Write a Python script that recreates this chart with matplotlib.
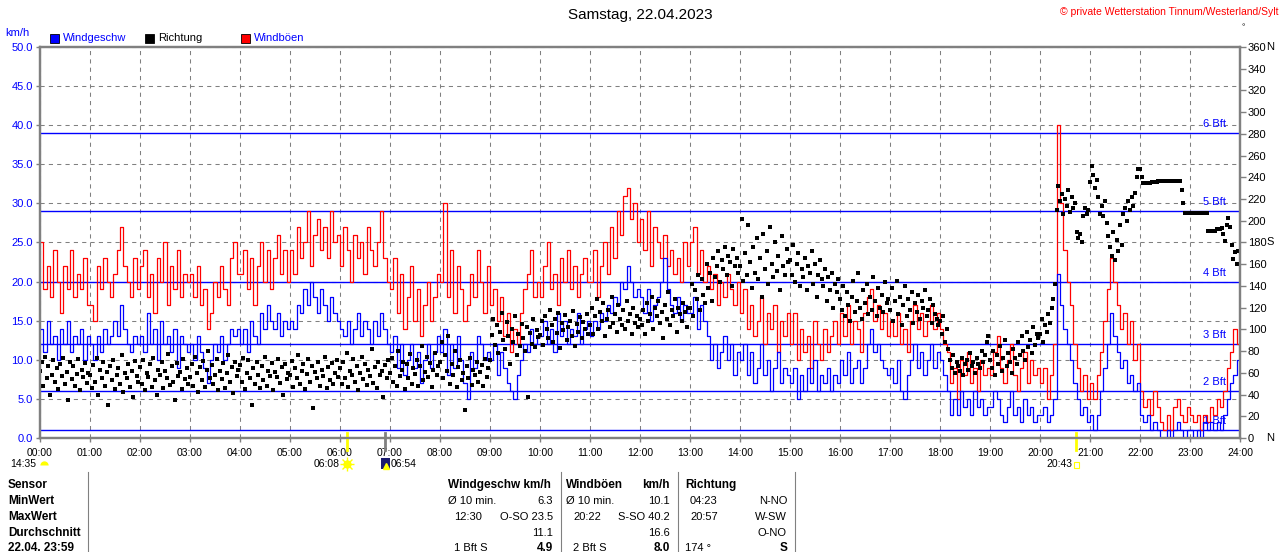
import numpy as np
import matplotlib
matplotlib.use("Agg")
import matplotlib.pyplot as plt
from matplotlib.patches import Rectangle
from matplotlib.transforms import blended_transform_factory

plt.rcParams['font.family'] = ['Liberation Sans', 'DejaVu Sans']

W, H = 1280, 552

# wind speed, km/h, 4-minute values, one row per hour
SPEED = [
    [14, 11, 15, 12, 13, 10, 14, 12, 15, 11, 13, 12, 14, 10, 13],
    [12, 10, 13, 11, 14, 12, 13, 15, 13, 17, 14, 12, 11, 13, 12],
    [13, 11, 16, 12, 14, 10, 15, 12, 13, 11, 14, 9, 13, 12, 11],
    [12, 10, 13, 11, 9, 7, 10, 12, 11, 13, 10, 12, 14, 13, 14],
    [12, 14, 11, 15, 13, 12, 16, 14, 17, 15, 14, 16, 13, 15, 14],
    [15, 14, 17, 16, 19, 17, 20, 18, 16, 19, 17, 15, 18, 16, 15],
    [14, 13, 15, 12, 14, 16, 13, 15, 14, 12, 15, 13, 16, 14, 12],
    [11, 13, 9, 12, 8, 10, 12, 9, 11, 7, 10, 12, 9, 11, 13],
    [11, 14, 8, 12, 9, 13, 10, 7, 5, 11, 9, 13, 12, 10, 11],
    [10, 12, 8, 11, 9, 7, 6, 5, 8, 10, 12, 11, 14, 12, 13],
    [13, 15, 12, 14, 11, 16, 13, 15, 12, 14, 13, 16, 12, 14, 15],
    [13, 15, 14, 16, 15, 17, 16, 18, 17, 20, 19, 22, 20, 18, 19],
    [18, 16, 19, 15, 17, 18, 20, 23, 19, 17, 16, 18, 15, 17, 16],
    [16, 18, 14, 17, 15, 13, 10, 12, 9, 11, 13, 10, 12, 8, 11],
    [10, 12, 8, 11, 7, 9, 12, 8, 10, 6, 9, 11, 7, 9, 8],
    [7, 9, 5, 8, 6, 9, 7, 10, 6, 8, 7, 9, 6, 8, 7],
    [10, 8, 11, 7, 9, 10, 7, 9, 12, 14, 11, 12, 10, 9, 8],
    [9, 7, 10, 6, 5, 8, 10, 12, 9, 11, 8, 10, 12, 9, 11],
    [10, 8, 6, 3, 5, 3, 6, 4, 5, 3, 6, 4, 5, 3, 4],
    [4, 6, 5, 3, 2, 4, 6, 3, 4, 2, 5, 3, 4, 2, 3],
    [3, 4, 2, 3, 5, 21, 17, 14, 12, 10, 7, 5, 3, 4, 2],
    [3, 1, 3, 6, 9, 12, 16, 13, 11, 9, 10, 7, 8, 6, 7],
    [3, 2, 3, 1, 2, 1, 0, 0, 1, 0, 1, 2, 1, 0, 1],
    [1, 0, 1, 0, 2, 1, 2, 1, 2, 1, 3, 5, 7, 8, 10],
]

# gusts, km/h, 4-minute values, one row per hour
GUST = [
    [25, 19, 22, 18, 24, 20, 16, 22, 19, 24, 18, 21, 19, 23, 17],
    [17, 15, 22, 19, 23, 20, 18, 21, 24, 27, 22, 20, 18, 23, 19],
    [22, 24, 18, 21, 16, 23, 20, 25, 17, 22, 19, 24, 18, 21, 20],
    [21, 18, 22, 17, 19, 14, 16, 20, 18, 22, 19, 17, 23, 25, 21],
    [21, 24, 19, 23, 17, 22, 25, 20, 24, 19, 23, 26, 21, 24, 20],
    [24, 21, 27, 23, 25, 29, 22, 26, 28, 24, 27, 23, 29, 25, 26],
    [22, 27, 24, 20, 26, 23, 25, 21, 27, 24, 22, 25, 29, 23, 20],
    [19, 23, 16, 21, 14, 18, 22, 15, 19, 13, 17, 20, 15, 18, 21],
    [20, 30, 18, 24, 16, 22, 19, 15, 17, 21, 18, 24, 20, 16, 22],
    [17, 19, 15, 18, 13, 16, 11, 14, 12, 16, 19, 21, 24, 18, 20],
    [18, 22, 25, 19, 21, 17, 23, 20, 24, 19, 22, 18, 21, 23, 20],
    [20, 24, 18, 22, 25, 21, 27, 23, 29, 26, 31, 32, 28, 30, 25],
    [28, 24, 29, 22, 27, 25, 23, 26, 22, 24, 21, 23, 20, 25, 22],
    [25, 27, 21, 24, 20, 22, 19, 21, 17, 20, 18, 21, 19, 17, 20],
    [16, 19, 14, 17, 13, 15, 18, 12, 16, 14, 17, 11, 15, 13, 16],
    [12, 16, 10, 14, 11, 13, 9, 15, 12, 10, 14, 11, 13, 15, 12],
    [16, 13, 17, 12, 15, 14, 11, 16, 18, 19, 15, 17, 14, 16, 13],
    [15, 13, 16, 12, 14, 11, 15, 17, 14, 16, 13, 15, 17, 14, 16],
    [14, 12, 11, 7, 9, 5, 10, 8, 11, 7, 9, 6, 10, 8, 9],
    [8, 11, 13, 9, 7, 10, 12, 8, 6, 9, 11, 7, 10, 8, 9],
    [7, 9, 5, 8, 12, 40, 30, 24, 20, 17, 12, 9, 6, 8, 5],
    [7, 5, 8, 11, 15, 19, 23, 20, 17, 14, 16, 12, 15, 10, 12],
    [6, 4, 5, 3, 6, 4, 2, 1, 3, 1, 4, 5, 3, 2, 4],
    [3, 2, 3, 1, 3, 2, 4, 3, 5, 4, 6, 9, 11, 14, 12],
]

# wind direction, degrees, 2-minute values, one row per hour
DIRECTION = [
    [62, 70, 48, 75, 55, 66, 40, 58, 72, 52, 64, 45, 68, 57, 74, 50, 61, 35, 70, 54, 66, 48, 59, 73, 44, 63, 56, 69, 51, 60],
    [58, 46, 67, 52, 74, 40, 63, 55, 70, 48, 61, 30, 66, 53, 72, 45, 58, 64, 50, 76, 42, 60, 55, 68, 47, 62, 38, 71, 57, 52],
    [65, 50, 72, 44, 60, 56, 68, 47, 74, 53, 40, 63, 58, 70, 46, 62, 55, 77, 49, 66, 52, 35, 69, 57, 61, 45, 73, 54, 64, 50],
    [56, 68, 48, 75, 60, 42, 65, 53, 71, 47, 63, 80, 55, 67, 50, 58, 73, 44, 62, 54, 69, 46, 60, 76, 52, 65, 41, 70, 57, 63],
    [67, 52, 74, 45, 60, 72, 55, 30, 64, 50, 70, 58, 46, 66, 53, 75, 48, 62, 57, 69, 44, 61, 56, 73, 51, 65, 40, 68, 54, 60],
    [58, 71, 47, 64, 55, 76, 50, 62, 68, 45, 59, 73, 52, 66, 28, 61, 55, 70, 48, 63, 57, 75, 46, 65, 53, 69, 50, 60, 72, 56],
    [64, 50, 70, 55, 78, 47, 62, 58, 73, 52, 66, 44, 60, 75, 54, 68, 49, 63, 57, 82, 51, 65, 46, 70, 58, 62, 38, 67, 55, 72],
    [60, 74, 52, 66, 48, 80, 57, 63, 70, 45, 68, 55, 77, 50, 64, 59, 72, 48, 66, 85, 53, 61, 75, 56, 69, 47, 63, 78, 58, 66],
    [70, 88, 55, 76, 62, 94, 50, 68, 58, 80, 47, 65, 72, 53, 60, 26, 66, 55, 74, 49, 63, 58, 70, 52, 61, 67, 48, 73, 56, 64],
    [72, 95, 110, 86, 104, 78, 98, 115, 90, 82, 107, 94, 68, 100, 88, 112, 76, 96, 85, 105, 92, 80, 102, 38, 97, 87, 110, 84, 99, 93],
    [95, 108, 86, 112, 100, 92, 118, 104, 88, 110, 97, 115, 83, 106, 99, 113, 90, 102, 108, 94, 117, 85, 105, 98, 111, 92, 107, 100, 114, 96],
    [104, 120, 96, 112, 128, 100, 116, 108, 124, 94, 110, 118, 102, 130, 106, 114, 98, 122, 110, 104, 118, 100, 126, 108, 114, 96, 120, 106, 112, 102],
    [110, 104, 118, 96, 124, 108, 114, 130, 100, 120, 112, 126, 106, 116, 92, 122, 110, 134, 104, 118, 112, 128, 98, 120, 114, 108, 124, 116, 102, 120],
    [120, 142, 112, 136, 128, 150, 118, 146, 132, 124, 160, 138, 152, 126, 166, 148, 158, 172, 144, 164, 156, 176, 150, 168, 162, 140, 174, 158, 166, 152],
    [158, 202, 145, 170, 150, 196, 162, 138, 176, 152, 184, 146, 166, 130, 188, 156, 172, 142, 194, 160, 148, 180, 154, 168, 136, 186, 158, 150, 174, 162],
    [164, 150, 178, 144, 160, 170, 140, 156, 148, 166, 136, 158, 152, 172, 142, 160, 130, 150, 164, 146, 140, 156, 126, 148, 136, 152, 120, 142, 134, 146],
    [128, 118, 140, 112, 134, 122, 108, 130, 145, 116, 126, 152, 120, 110, 136, 124, 142, 114, 130, 118, 148, 126, 112, 138, 120, 132, 116, 144, 124, 128],
    [118, 138, 108, 126, 145, 114, 130, 104, 122, 140, 112, 128, 118, 134, 106, 124, 116, 132, 110, 126, 120, 136, 112, 118, 128, 106, 122, 114, 110, 104],
    [108, 96, 112, 88, 100, 82, 72, 64, 76, 60, 70, 66, 62, 74, 58, 68, 72, 63, 78, 66, 70, 60, 74, 68, 64, 80, 70, 76, 88, 94],
    [72, 64, 80, 58, 76, 68, 85, 62, 74, 90, 66, 78, 70, 60, 82, 74, 68, 88, 76, 94, 80, 72, 98, 84, 90, 78, 102, 86, 96, 92],
    [96, 110, 88, 104, 98, 114, 106, 120, 128, 142, 210, 232, 218, 225, 206, 220, 214, 228, 208, 222, 212, 216, 190, 184, 188, 180, 204, 212, 206, 210],
    [236, 250, 242, 230, 238, 222, 206, 214, 204, 218, 198, 186, 176, 168, 190, 164, 182, 172, 196, 178, 206, 212, 200, 218, 210, 222, 214, 226, 240, 248],
    [248, 240, 235, 235, 235, 235, 235, 236, 236, 236, 236, 237, 237, 237, 237, 237, 237, 237, 237, 237, 237, 237, 237, 237, 237, 228, 216, 207, 207, 207],
    [207, 207, 207, 207, 207, 207, 207, 207, 207, 207, 207, 191, 191, 191, 191, 191, 192, 192, 192, 193, 188, 181, 196, 203, 194, 178, 165, 171, 160, 172],
]

HOUR_LABELS = [f"{h:02d}:00" for h in range(25)]
KMH_TICKS = [0, 5, 10, 15, 20, 25, 30, 35, 40, 45, 50]
DIR_TICKS = list(range(0, 361, 20))
DIR_LETTERS = [(360, "N"), (180, "S"), (0, "N")]
BFT_KMH = [1, 6, 12, 20, 29, 39]
BFT_NAMES = ["1 Bft", "2 Bft", "3 Bft", "4 Bft", "5 Bft", "6 Bft"]

TITLE = "Samstag, 22.04.2023"
COPYRIGHT = "© private Wetterstation Tinnum/Westerland/Sylt"

# sun / moon marks under the time axis
SUNRISE, SUNSET, MOONRISE, MOONSET = "06:08", "20:43", "06:54", "14:35"

ROW_LABELS = ["Sensor", "MinWert", "MaxWert", "Durchschnitt", "22.04. 23:59"]
SPEED_COL = [("", "Windgeschw km/h"), ("Ø 10 min.", "6.3"), ("12:30", "O-SO 23.5"),
             ("", "11.1"), ("1 Bft S", "4.9")]
GUST_COL = [("Windböen", "km/h"), ("Ø 10 min.", "10.1"), ("20:22", "S-SO 40.2"),
            ("", "16.6"), ("2 Bft S", "8.0")]
DIR_COL = [("Richtung", ""), ("04:23", "N-NO"), ("20:57", "W-SW"),
           ("", "O-NO"), ("174 °", "S")]

BLUE, RED, GRAY, YELLOW = "#0000ff", "#ff0000", "#808080", "#ffff00"


def hours_of(hhmm):
    h, m = hhmm.split(":")
    return int(h) + int(m) / 60


def px(x, y):
    return x / W, 1 - y / H


def fig_marker(x, y, **kw):
    fx, fy = px(x, y)
    fig.lines.append(plt.Line2D([fx], [fy], transform=fig.transFigure, **kw))


fig = plt.figure(figsize=(W / 100, H / 100), dpi=100)
ax = fig.add_axes([40 / W, (H - 438) / H, 1200 / W, 391 / H])
ax2 = ax.twinx()

speed = np.array(SPEED, float).ravel()
gust = np.array(GUST, float).ravel()
direc = np.array(DIRECTION, float).ravel()
t4 = np.arange(len(speed)) * 4 / 60
t2 = np.arange(len(direc)) * 2 / 60

ax.set_xlim(0, 24)
ax.set_ylim(0, 50)
ax2.set_ylim(0, 360)

ax.set_xticks(range(25))
ax.set_xticklabels(HOUR_LABELS, fontsize=7.5)
ax.set_yticks(KMH_TICKS)
ax.set_yticklabels([f"{v:.1f}" for v in KMH_TICKS], fontsize=8, color=BLUE)
ax.tick_params(axis="both", length=3, width=1, color=GRAY, pad=2)
ax.tick_params(axis="x", pad=4)
ax.grid(True, color=GRAY, lw=0.75, ls=(0, (4, 4)))
ax.set_axisbelow(True)

ax2.set_yticks(DIR_TICKS)
ax2.set_yticklabels([str(d) for d in DIR_TICKS], fontsize=8)
ax2.tick_params(axis="y", length=4, width=1, color=GRAY, pad=1.5)
for a in (ax, ax2):
    for s in a.spines.values():
        s.set_color(GRAY)
        s.set_linewidth(1.6)

for kmh, name in zip(BFT_KMH, BFT_NAMES):
    ax.axhline(kmh, color=BLUE, lw=1.0, zorder=1.5)
    ax.text(23.72, kmh + 0.5, name, color=BLUE, fontsize=8, ha="right",
            va="bottom", zorder=1.6)

ax.step(np.append(t4, 24), np.append(gust, gust[-1]), where="post",
        color=RED, lw=0.9, zorder=2)
ax.step(np.append(t4, 24), np.append(speed, speed[-1]), where="post",
        color=BLUE, lw=0.9, zorder=3)
ax2.scatter(t2, direc, s=5.5, marker="s", color="black", linewidths=0,
            antialiased=False)

# direction letters right of the numbers
for deg, letter in DIR_LETTERS:
    ax2.annotate(letter, (1, deg), xycoords=("axes fraction", "data"),
                 xytext=(26, 0), textcoords="offset pixels", fontsize=8,
                 va="center", annotation_clip=False)

# sun / moon tick marks on the time axis
tr = blended_transform_factory(ax.transData, ax.transAxes)
for hhmm, col in [(SUNRISE, YELLOW), (MOONRISE, GRAY), (SUNSET, YELLOW)]:
    x = hours_of(hhmm)
    ax.plot([x, x], [0.012, -0.03], transform=tr, color=col, lw=2,
            clip_on=False, zorder=5)

fig.text(*px(640, 15), TITLE, fontsize=11, ha="center", va="center")
fig.text(*px(1278, 12), COPYRIGHT, fontsize=7.5, color=RED, ha="right", va="center")
fig.text(*px(1243, 28), "°", fontsize=6, ha="center", va="center")
fig.text(*px(5, 33), "km/h", fontsize=8, color=BLUE, va="center")

legend = [(50, BLUE, "Windgeschw", BLUE), (145, "black", "Richtung", "black"),
          (241, RED, "Windböen", BLUE)]
for x0, face, label, tcol in legend:
    fig.patches.append(Rectangle(px(x0, 43), 9 / W, 9 / H, facecolor=face,
                                 edgecolor="black", lw=0.6,
                                 transform=fig.transFigure))
    fig.text(*px(x0 + 13, 38), label, fontsize=8, color=tcol, va="center")

# astro labels
fig.text(*px(10, 464), MOONSET, fontsize=7.5, va="center")
fig_marker(44, 465, marker="o", ms=6, fillstyle="top", color=YELLOW,
           markerfacecoloralt="none", mew=0)
fig.text(*px(340, 464), SUNRISE, fontsize=7.5, va="center", ha="right")
fig_marker(347, 464, marker="+", ms=10, mew=1, color=YELLOW)
fig_marker(347, 464, marker="x", ms=7, mew=1, color=YELLOW)
fig_marker(347, 464, marker="o", ms=6, color=YELLOW, mew=0)
fig.patches.append(Rectangle(px(381, 469), 9 / W, 11 / H, facecolor="#1a1a6e",
                             transform=fig.transFigure))
fig_marker(386, 466, marker="^", ms=4, color=YELLOW)
fig.text(*px(391, 464), MOONRISE, fontsize=7.5, va="center")
fig.text(*px(1072, 464), SUNSET, fontsize=7.5, va="center", ha="right")
fig.patches.append(Rectangle(px(1074, 468), 5 / W, 6 / H, facecolor="none",
                             edgecolor=YELLOW, lw=0.8, transform=fig.transFigure))

# statistics table
for x in (88, 561, 678, 795):
    fig.lines.append(plt.Line2D([x / W, x / W], [px(0, 472)[1], 0], color=GRAY,
                                lw=0.8, transform=fig.transFigure))

row_y = [485, 501, 517, 533, 548]
for i, (y, label) in enumerate(zip(row_y, ROW_LABELS)):
    fig.text(*px(8, y), label, fontsize=8.5, fontweight="bold", va="center")
    head = i == 0
    last = i == len(row_y) - 1
    for col, xl, xr, indent in [(SPEED_COL, 448, 553, 6), (GUST_COL, 566, 670, 7),
                                (DIR_COL, 685, 787, 5)]:
        left, right = col[i]
        if left:
            dx = 0 if head or left.startswith("Ø") else indent
            if col is DIR_COL and last:
                dx = 0
            fig.text(*px(xl + dx, y), left, fontsize=8.5 if head else 8,
                     fontweight="bold" if head else "normal", va="center")
        if right:
            if head and col is SPEED_COL:
                fig.text(*px(xl, y), right, fontsize=8.5, fontweight="bold",
                         va="center")
            else:
                fig.text(*px(xr, y), right, fontsize=8.5 if (head or last) else 8,
                         fontweight="bold" if (head or last) else "normal",
                         va="center", ha="right")

fig.savefig("out.png", dpi=100)
